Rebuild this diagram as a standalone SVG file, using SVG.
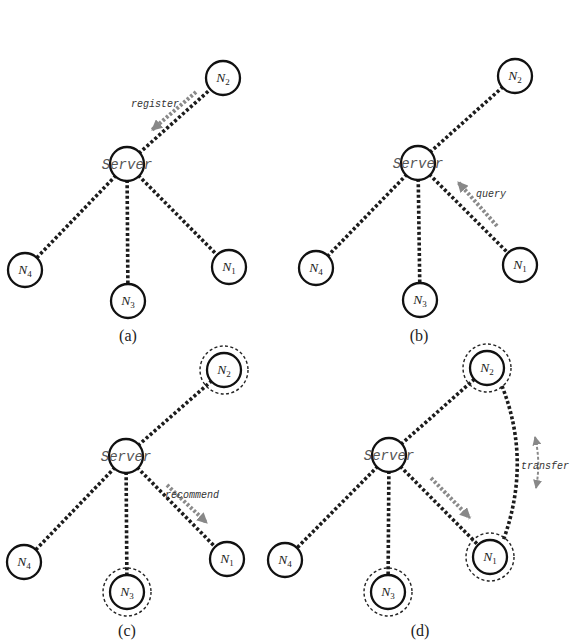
<svg xmlns="http://www.w3.org/2000/svg" width="582" height="643" viewBox="0 0 582 643">
<style>
.bg{fill:#fff}
.conn{stroke:#1c1c1c;stroke-width:3.6;stroke-dasharray:3 2.3;fill:none}
.nd{fill:#fff;stroke:#111;stroke-width:2.3}
.ring{fill:none;stroke:#222;stroke-width:1.4;stroke-dasharray:3 2.4}
.srv{font-family:"Liberation Mono",monospace;font-style:italic;font-size:14px;fill:#555;text-anchor:middle}
.nl{font-family:"Liberation Serif",serif;font-style:italic;font-size:13.5px;fill:#222;text-anchor:middle}
.sub{font-style:normal;font-size:9px}
.msg{stroke:#8a8a8a;stroke-width:4;stroke-dasharray:2.6 2;fill:none}
.msg2{stroke:#8a8a8a;stroke-width:2;stroke-dasharray:3 2;fill:none}
.ml{font-family:"Liberation Mono",monospace;font-style:italic;font-size:10px;fill:#333}
.cap{font-family:"Liberation Serif",serif;font-size:16px;fill:#222;text-anchor:middle}
</style>
<defs>
<marker id="ah" viewBox="0 0 10 10" refX="9" refY="5" markerWidth="11" markerHeight="11" markerUnits="userSpaceOnUse" orient="auto"><path d="M0,0 L10,5 L0,10 z" fill="#888"/></marker>
<marker id="ah2" viewBox="0 0 10 10" refX="9" refY="5" markerWidth="9" markerHeight="9" markerUnits="userSpaceOnUse" orient="auto-start-reverse"><path d="M0,0 L10,5 L0,10 z" fill="#888"/></marker>
</defs>
<rect class="bg" x="0" y="0" width="582" height="643"/>

<g id="connectors">
<!-- (a) -->
<line class="conn" x1="127" y1="164" x2="223" y2="78"/>
<line class="conn" x1="127" y1="164" x2="25" y2="270"/>
<line class="conn" x1="127" y1="164" x2="128" y2="301"/>
<line class="conn" x1="127" y1="164" x2="229" y2="267"/>
<!-- (b) -->
<line class="conn" x1="418" y1="163" x2="515" y2="76"/>
<line class="conn" x1="418" y1="163" x2="316" y2="268"/>
<line class="conn" x1="418" y1="163" x2="420" y2="300"/>
<line class="conn" x1="418" y1="163" x2="520" y2="265"/>
<!-- (c) -->
<line class="conn" x1="126" y1="456" x2="224" y2="370"/>
<line class="conn" x1="126" y1="456" x2="24" y2="562"/>
<line class="conn" x1="126" y1="456" x2="127" y2="592"/>
<line class="conn" x1="126" y1="456" x2="227" y2="559"/>
<!-- (d) -->
<line class="conn" x1="389" y1="455" x2="487" y2="368"/>
<line class="conn" x1="389" y1="455" x2="285" y2="560"/>
<line class="conn" x1="389" y1="455" x2="388" y2="592"/>
<line class="conn" x1="389" y1="455" x2="490" y2="557"/>
<path class="conn" d="M502 386 Q532 462 503 541"/>
<!-- messages -->
<line class="msg" x1="196" y1="92" x2="152" y2="130" marker-end="url(#ah)"/>
<line class="msg" x1="497" y1="226" x2="458" y2="182" marker-end="url(#ah)"/>
<line class="msg" x1="167" y1="485" x2="207" y2="523" marker-end="url(#ah)"/>
<line class="msg" x1="431" y1="478" x2="470" y2="518" marker-end="url(#ah)"/>
<path class="msg2" d="M535 437 Q541 462 536 488" marker-start="url(#ah2)" marker-end="url(#ah2)"/>
</g>

<g id="labels">
<text class="ml" x="131" y="107">register</text>
<text class="ml" x="476" y="197">query</text>
<text class="ml" x="165" y="498">recommend</text>
<text class="ml" x="521" y="469">transfer</text>
<text class="cap" x="128" y="341">(a)</text>
<text class="cap" x="419" y="341">(b)</text>
<text class="cap" x="127" y="636">(c)</text>
<text class="cap" x="420" y="636">(d)</text>
</g>

<!-- panel (a) -->
<g id="a-server"><circle class="nd" cx="127" cy="164" r="17"/><text class="srv" x="127" y="169">Server</text></g>
<g id="a-n1"><circle class="nd" cx="229" cy="267" r="17"/><text class="nl" x="229" y="271">N<tspan class="sub" dy="3">1</tspan></text></g>
<g id="a-n2"><circle class="nd" cx="223" cy="78" r="17"/><text class="nl" x="223" y="82">N<tspan class="sub" dy="3">2</tspan></text></g>
<g id="a-n3"><circle class="nd" cx="128" cy="301" r="17"/><text class="nl" x="128" y="305">N<tspan class="sub" dy="3">3</tspan></text></g>
<g id="a-n4"><circle class="nd" cx="25" cy="270" r="17"/><text class="nl" x="25" y="274">N<tspan class="sub" dy="3">4</tspan></text></g>

<!-- panel (b) -->
<g id="b-server"><circle class="nd" cx="418" cy="163" r="17"/><text class="srv" x="418" y="168">Server</text></g>
<g id="b-n1"><circle class="nd" cx="520" cy="265" r="17"/><text class="nl" x="520" y="269">N<tspan class="sub" dy="3">1</tspan></text></g>
<g id="b-n2"><circle class="nd" cx="515" cy="76" r="17"/><text class="nl" x="515" y="80">N<tspan class="sub" dy="3">2</tspan></text></g>
<g id="b-n3"><circle class="nd" cx="420" cy="300" r="17"/><text class="nl" x="420" y="304">N<tspan class="sub" dy="3">3</tspan></text></g>
<g id="b-n4"><circle class="nd" cx="316" cy="268" r="17"/><text class="nl" x="316" y="272">N<tspan class="sub" dy="3">4</tspan></text></g>

<!-- panel (c) -->
<g id="c-server"><circle class="nd" cx="126" cy="456" r="17"/><text class="srv" x="126" y="461">Server</text></g>
<g id="c-n1"><circle class="nd" cx="227" cy="559" r="17"/><text class="nl" x="227" y="563">N<tspan class="sub" dy="3">1</tspan></text></g>
<g id="c-n2"><circle class="ring" cx="224" cy="370" r="24"/><circle class="nd" cx="224" cy="370" r="17"/><text class="nl" x="224" y="374">N<tspan class="sub" dy="3">2</tspan></text></g>
<g id="c-n3"><circle class="ring" cx="127" cy="592" r="24"/><circle class="nd" cx="127" cy="592" r="17"/><text class="nl" x="127" y="596">N<tspan class="sub" dy="3">3</tspan></text></g>
<g id="c-n4"><circle class="nd" cx="24" cy="562" r="17"/><text class="nl" x="24" y="566">N<tspan class="sub" dy="3">4</tspan></text></g>

<!-- panel (d) -->
<g id="d-server"><circle class="nd" cx="389" cy="455" r="17"/><text class="srv" x="389" y="460">Server</text></g>
<g id="d-n1"><circle class="ring" cx="490" cy="557" r="24"/><circle class="nd" cx="490" cy="557" r="17"/><text class="nl" x="490" y="561">N<tspan class="sub" dy="3">1</tspan></text></g>
<g id="d-n2"><circle class="ring" cx="487" cy="368" r="24"/><circle class="nd" cx="487" cy="368" r="17"/><text class="nl" x="487" y="372">N<tspan class="sub" dy="3">2</tspan></text></g>
<g id="d-n3"><circle class="ring" cx="388" cy="592" r="24"/><circle class="nd" cx="388" cy="592" r="17"/><text class="nl" x="388" y="596">N<tspan class="sub" dy="3">3</tspan></text></g>
<g id="d-n4"><circle class="nd" cx="285" cy="560" r="17"/><text class="nl" x="285" y="564">N<tspan class="sub" dy="3">4</tspan></text></g>
</svg>
